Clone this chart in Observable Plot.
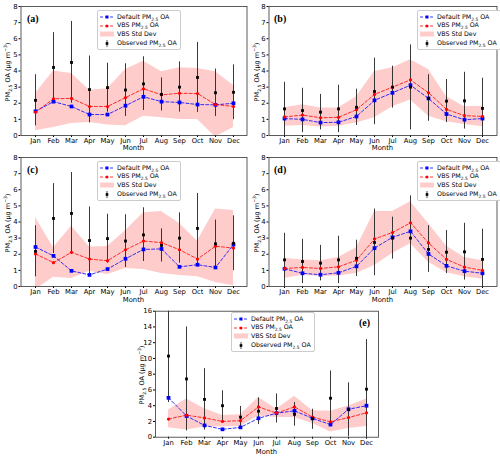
<!DOCTYPE html>
<html><head><meta charset="utf-8">
<script src="https://cdn.jsdelivr.net/npm/d3@7"></script>
<script src="https://cdn.jsdelivr.net/npm/@observablehq/plot@0.6"></script>
<style>
body{margin:0;background:#fff;}
#wrap{position:relative;width:500px;height:458px;overflow:hidden;font-family:"DejaVu Sans",sans-serif;}
.svgbox{position:absolute;}
.ylab{position:absolute;white-space:nowrap;font-size:6.5px;transform:translate(-50%,-50%) rotate(-90deg);line-height:1;}
.xlab{position:absolute;white-space:nowrap;font-size:6.8px;transform:translate(-50%,-50%);line-height:1;}
.plab{position:absolute;font-family:"Liberation Serif",serif;font-weight:bold;font-size:10px;line-height:1;transform:translateY(-50%);}
.legend{position:absolute;background:#fff;border:0.6px solid #ccc;border-radius:2px;padding:1.5px 3px 1px 2px;font-size:6.3px;line-height:8.8px;}
.legend .row{display:flex;align-items:center;height:8.8px;white-space:nowrap;}
.legend svg{margin-right:3px;flex:none;}
sub,sup{font-size:70%;line-height:0;}
</style></head>
<body><div id="wrap"></div>
<script>
const months = ["Jan","Feb","Mar","Apr","May","Jun","Jul","Aug","Sep","Oct","Nov","Dec"];

// Panel (a)
const defaultA = [1.5,2.1,1.8,1.3,1.3,1.85,2.4,2.1,2.05,1.92,1.9,2.0];
const vbsA     = [1.45,2.28,2.3,1.8,1.8,2.35,2.9,2.52,2.62,2.6,1.92,1.8];
const stdHiA   = [2.6,4.0,3.85,2.8,2.9,4.1,4.6,3.95,4.2,4.15,3.95,3.1];
const stdLoA   = [0.3,0.5,0.75,0.8,0.65,0.6,1.2,1.1,1.0,1.0,-0.1,0.5];
// Panel (b)
const defaultB = [1.05,1.0,0.8,0.82,1.18,2.18,2.65,3.12,2.3,1.33,0.98,1.05];
const vbsB     = [1.15,1.27,1.1,1.13,1.6,2.55,3.0,3.45,2.65,1.62,1.23,1.18];
const stdHiB   = [1.72,1.9,1.7,1.7,2.4,3.97,4.2,4.7,4.1,2.4,1.78,1.82];
const stdLoB   = [0.57,0.62,0.52,0.58,0.78,1.1,1.78,2.2,1.2,0.85,0.68,0.55];
// Panel (c)
const defaultC = [2.45,1.9,0.97,0.72,1.08,1.72,2.3,2.33,1.22,1.35,1.18,2.6];
const vbsC     = [2.02,1.48,2.12,1.7,1.6,2.28,2.82,2.72,2.28,1.7,2.5,2.38];
const stdHiC   = [4.28,2.4,3.73,2.45,2.48,3.45,4.58,4.65,3.9,2.8,4.8,4.72];
const stdLoC   = [-0.2,0.58,0.5,0.95,0.75,1.12,1.05,0.8,0.68,0.6,0.25,0.05];
// Panel (d)
const defaultD = [1.1,0.82,0.73,0.85,1.25,2.38,3.05,3.42,2.02,1.28,0.95,0.82];
const vbsD     = [1.12,1.18,1.12,1.22,1.63,2.95,3.35,3.95,2.7,1.68,1.2,1.0];
const stdHiD   = [1.75,1.65,1.6,1.8,2.4,4.65,4.65,5.25,3.9,2.5,1.8,1.6];
const stdLoD   = [0.5,0.7,0.62,0.65,0.8,1.3,2.05,2.65,1.5,0.85,0.6,0.45];
// Panel (e)
const defaultE = [5.0,2.7,1.5,1.0,1.25,2.4,3.05,3.35,2.4,1.6,3.55,4.0];
const vbsE     = [2.3,2.8,2.45,2.0,2.1,3.85,3.05,3.85,2.55,1.95,2.5,3.1];
const stdHiE   = [3.45,4.85,3.6,2.75,2.85,5.05,3.55,5.2,3.35,3.3,3.95,4.85];
const stdLoE   = [1.2,0.9,1.3,1.3,1.35,2.7,2.5,2.5,1.75,0.65,1.1,1.35];

// Observed (shared by a/c and b/d)
const obsAC   = [2.18,4.22,4.53,2.85,2.97,2.82,3.2,2.55,3.0,3.6,2.65,2.68];
const obsLoAC = [0.6,2.05,2.0,0.78,1.45,1.18,1.55,1.52,1.45,1.43,1.18,0.98];
const obsHiAC = [3.77,6.38,7.07,4.93,4.48,4.45,4.88,3.57,4.57,5.77,4.12,4.38];
const obsBD   = [1.65,1.55,1.45,1.65,1.75,2.73,3.0,3.0,2.3,2.13,2.15,1.68];
const obsLoBD = [-0.1,0.18,0.35,0.18,0.62,0.67,1.7,0.35,0.88,0.8,0.4,-0.2];
const obsHiBD = [3.3,2.93,2.55,3.12,2.87,4.8,4.3,5.62,3.77,3.47,3.92,3.55];
const obsE    = [10.3,7.4,4.8,4.0,2.55,3.3,3.65,2.9,2.35,4.95,3.5,6.1];
const obsLoE  = [4.4,0.8,0.9,2.1,1.2,1.6,1.8,1.4,1.0,1.5,0.1,-0.2];
const obsHiE  = [16.3,14.0,8.7,5.9,3.9,5.0,5.5,4.4,3.55,8.4,6.9,12.4];

const panels = [
  {lab:"(a)", left:0, top:0, w:250, h:155, ml:20.5, mr:3.5, mt:6, mb:20, ymax:8, step:1,
   def:defaultA, vbs:vbsA, hi:stdHiA, lo:stdLoA, obs:obsAC, olo:obsLoAC, ohi:obsHiAC,
   leg:{x:97, y:10}, plab:{x:27, y:18.5}, ylx:7.5, mly:148.3},
  {lab:"(b)", left:250, top:0, w:250, h:155, ml:18.5, mr:3.5, mt:6, mb:20, ymax:8, step:1,
   def:defaultB, vbs:vbsB, hi:stdHiB, lo:stdLoB, obs:obsBD, olo:obsLoBD, ohi:obsHiBD,
   leg:{x:417, y:10}, plab:{x:274, y:18.5}, ylx:256.5, mly:148.3},
  {lab:"(c)", left:0, top:151, w:250, h:155, ml:20.5, mr:3.5, mt:6, mb:20, ymax:8, step:1,
   def:defaultC, vbs:vbsC, hi:stdHiC, lo:stdLoC, obs:obsAC, olo:obsLoAC, ohi:obsHiAC,
   leg:{x:97, y:161}, plab:{x:27, y:169.5}, ylx:7.5, mly:299.8},
  {lab:"(d)", left:250, top:151, w:250, h:155, ml:18.5, mr:3.5, mt:6, mb:20, ymax:8, step:1,
   def:defaultD, vbs:vbsD, hi:stdHiD, lo:stdLoD, obs:obsBD, olo:obsLoBD, ohi:obsHiBD,
   leg:{x:417, y:161}, plab:{x:274, y:169.5}, ylx:256.5, mly:299.8},
  {lab:"(e)", left:120, top:304, w:260, h:154, ml:35, mr:2, mt:6.7, mb:21.3, ymax:16, step:2,
   def:defaultE, vbs:vbsE, hi:stdHiE, lo:stdLoE, obs:obsE, olo:obsLoE, ohi:obsHiE,
   leg:{x:231, y:312}, plab:{x:359, y:323}, ylx:141.5, mly:451.8}
];

const wrap = document.getElementById("wrap");
function add(html){ wrap.insertAdjacentHTML("beforeend", html); }

const legendHTML = `
<div class="row"><svg width="14" height="6"><line x1="0" y1="3" x2="14" y2="3" stroke="blue" stroke-width="0.8" stroke-dasharray="3,2"/><rect x="5.5" y="1.5" width="3" height="3" fill="blue"/></svg><span>Default PM<sub>2.5</sub> OA</span></div>
<div class="row"><svg width="14" height="6"><line x1="0" y1="3" x2="14" y2="3" stroke="red" stroke-width="0.8" stroke-dasharray="3,2"/><circle cx="7" cy="3" r="1.5" fill="red"/></svg><span>VBS PM<sub>2.5</sub> OA</span></div>
<div class="row"><svg width="14" height="6"><rect x="0" y="0.5" width="14" height="5" fill="#ffcccc"/></svg><span>VBS Std Dev</span></div>
<div class="row"><svg width="14" height="7"><line x1="7" y1="0" x2="7" y2="7" stroke="#222" stroke-width="0.8"/><rect x="5.7" y="2.2" width="2.6" height="2.6" fill="black"/></svg><span>Observed PM<sub>2.5</sub> OA</span></div>`;

for (const p of panels) {
  const rows = months.map((m, i) => ({m, d:p.def[i], v:p.vbs[i], lo:p.lo[i], hi:p.hi[i], o:p.obs[i], olo:p.olo[i], ohi:p.ohi[i]}));
  const chart = Plot.plot({
    width:p.w, height:p.h, marginLeft:p.ml, marginRight:p.mr, marginTop:p.mt, marginBottom:p.mb,
    style:{fontFamily:"DejaVu Sans", fontSize:"7px", background:"transparent", color:"#000", overflow:"visible"},
    x:{type:"point", domain:months, padding:0.55},
    y:{domain:[0, p.ymax]},
    marks:[
      Plot.areaY(rows, {x:"m", y1:"lo", y2:"hi", fill:"#ffcccc", clip:true}),
      Plot.ruleX(rows, {x:"m", y1:"olo", y2:"ohi", stroke:"#222", strokeWidth:0.9, clip:true}),
      Plot.line(rows, {x:"m", y:"d", stroke:"blue", strokeWidth:0.8, strokeDasharray:"3,2"}),
      Plot.dot(rows, {x:"m", y:"d", symbol:"square", fill:"blue", r:2.1}),
      Plot.line(rows, {x:"m", y:"v", stroke:"red", strokeWidth:0.8, strokeDasharray:"3,2"}),
      Plot.dot(rows, {x:"m", y:"v", fill:"red", r:1.6}),
      Plot.dot(rows, {x:"m", y:"o", symbol:"square", fill:"black", r:1.6}),
      Plot.axisX({tickSize:2, tickPadding:0.5, label:null, fontSize:6.8}),
      Plot.axisY(d3.range(0, p.ymax + p.step/2, p.step), {tickSize:2, tickPadding:1.5, label:null, fontSize:6.8}),
      Plot.frame({stroke:"#333", strokeWidth:0.8})
    ]
  });
  const box = document.createElement("div");
  box.className = "svgbox";
  box.style.left = p.left + "px";
  box.style.top = p.top + "px";
  box.appendChild(chart);
  wrap.appendChild(box);

  const fx0 = p.left + p.ml, fx1 = p.left + p.w - p.mr;
  const fy0 = p.top + p.mt, fy1 = p.top + p.h - p.mb;
  add(`<div class="ylab" style="left:${p.ylx}px;top:${(fy0+fy1)/2+1}px">PM<sub>2.5</sub> OA (μg m<sup>−3</sup>)</div>`);
  add(`<div class="xlab" style="left:${(fx0+fx1)/2}px;top:${p.mly}px">Month</div>`);
  add(`<div class="plab" style="left:${p.plab.x}px;top:${p.plab.y}px">${p.lab}</div>`);
  add(`<div class="legend" style="left:${p.leg.x}px;top:${p.leg.y}px">${legendHTML}</div>`);
}
</script></body></html>
